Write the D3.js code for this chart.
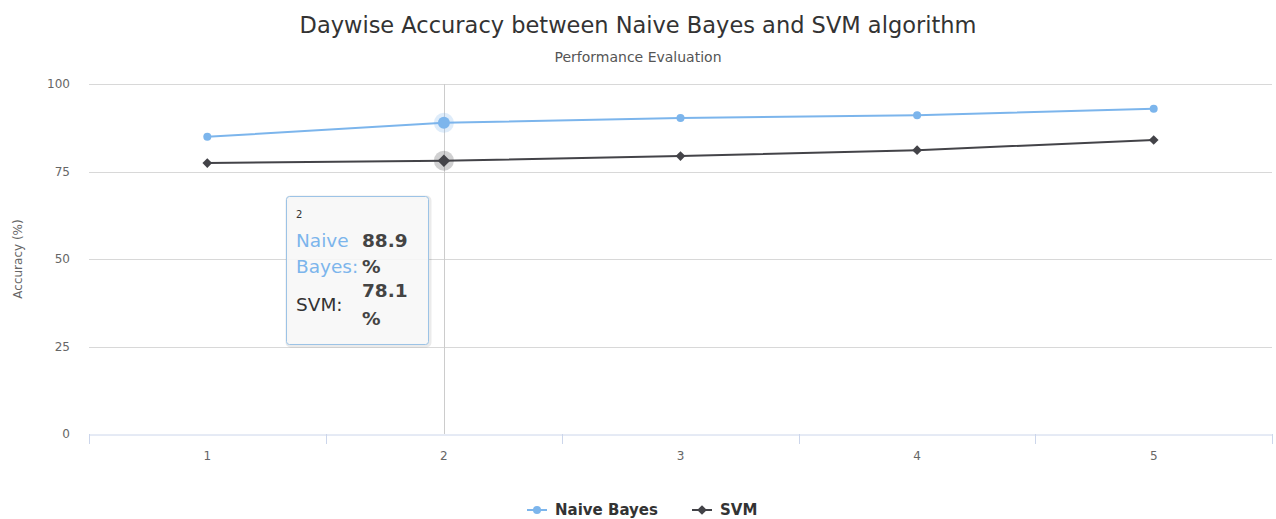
<!DOCTYPE html>
<html>
<head>
<meta charset="utf-8">
<script src="https://cdn.jsdelivr.net/npm/d3@7"></script>
<style>
  body { margin: 0; background: #fff; }
  svg { font-family: "DejaVu Sans", Verdana, sans-serif; }
</style>
</head>
<body>
<div id="chart"></div>
<script>
// chart data
const days = ['1', '2', '3', '4', '5'];
const naiveBayes = [84.9, 88.9, 90.3, 91.1, 92.9];
const svmAcc = [77.4, 78.1, 79.4, 81.1, 84.0];
const yTicks = [0, 25, 50, 75, 100];
const hoverIndex = 1;

const W = 1276, H = 519;
const margin = { top: 84, bottom: 85, left: 89, right: 4 };
const nbColor = '#7cb5ec';
const svmColor = '#434348';

const svg = d3.select('#chart').append('svg')
  .attr('width', W)
  .attr('height', H);

const x = d3.scaleBand().domain(days).range([margin.left, W - margin.right]);
const y = d3.scaleLinear().domain([0, 100]).range([H - margin.bottom, margin.top]);
const cx = d => x(d) + x.bandwidth() / 2;

// titles
svg.append('text')
  .attr('x', 638).attr('y', 33)
  .attr('text-anchor', 'middle')
  .attr('font-size', '22.5px')
  .attr('fill', '#333')
  .text('Daywise Accuracy between Naive Bayes and SVM algorithm');

svg.append('text')
  .attr('x', 638).attr('y', 62)
  .attr('text-anchor', 'middle')
  .attr('font-size', '14px')
  .attr('fill', '#555')
  .text('Performance Evaluation');

// grid lines
svg.append('g').selectAll('line')
  .data(yTicks.filter(t => t > 0))
  .enter().append('line')
  .attr('x1', margin.left).attr('x2', W - margin.right)
  .attr('y1', d => Math.round(y(d)) + 0.5).attr('y2', d => Math.round(y(d)) + 0.5)
  .attr('stroke', '#d8d8d8');

// y labels
svg.append('g').selectAll('text')
  .data(yTicks)
  .enter().append('text')
  .attr('x', 70).attr('y', d => y(d) + 4)
  .attr('text-anchor', 'end')
  .attr('font-size', '12px')
  .attr('fill', '#666')
  .text(d => d);

svg.append('text')
  .attr('transform', `translate(22, ${y(50)}) rotate(-90)`)
  .attr('text-anchor', 'middle')
  .attr('font-size', '12px')
  .attr('fill', '#666')
  .text('Accuracy (%)');

// x axis
const xAxis = svg.append('g')
  .attr('transform', `translate(0, ${Math.round(y(0)) + 0.5})`)
  .call(d3.axisBottom(x).tickSize(0).tickPadding(17));
xAxis.select('.domain').attr('stroke', '#ccd6eb');
xAxis.selectAll('text').attr('font-size', '12px').attr('fill', '#666')
  .attr('font-family', '"DejaVu Sans", sans-serif');

svg.append('g').selectAll('line')
  .data(days.map(d => x(d)).concat([x.range()[1] - 0.5]))
  .enter().append('line')
  .attr('x1', d => Math.round(d) + 0.5).attr('x2', d => Math.round(d) + 0.5)
  .attr('y1', y(0)).attr('y2', y(0) + 10)
  .attr('stroke', '#ccd6eb');

// crosshair
svg.append('line')
  .attr('x1', Math.round(cx(days[hoverIndex])) + 0.5)
  .attr('x2', Math.round(cx(days[hoverIndex])) + 0.5)
  .attr('y1', margin.top).attr('y2', y(0))
  .attr('stroke', '#cccccc');

// lines
const line = d3.line().x((d, i) => cx(days[i])).y(d => y(d));

svg.append('path').datum(naiveBayes)
  .attr('d', line).attr('fill', 'none')
  .attr('stroke', nbColor).attr('stroke-width', 2);

svg.append('path').datum(svmAcc)
  .attr('d', line).attr('fill', 'none')
  .attr('stroke', svmColor).attr('stroke-width', 2);

// hover halos
svg.append('circle')
  .attr('cx', cx(days[hoverIndex])).attr('cy', y(naiveBayes[hoverIndex]))
  .attr('r', 10).attr('fill', nbColor).attr('opacity', 0.25);
svg.append('circle')
  .attr('cx', cx(days[hoverIndex])).attr('cy', y(svmAcc[hoverIndex]))
  .attr('r', 10).attr('fill', svmColor).attr('opacity', 0.25);

// markers
svg.append('g').selectAll('circle')
  .data(naiveBayes)
  .enter().append('circle')
  .attr('cx', (d, i) => cx(days[i])).attr('cy', d => y(d))
  .attr('r', (d, i) => i === hoverIndex ? 6 : 4)
  .attr('fill', nbColor);

const diamond = d3.symbol().type(d3.symbolDiamond2);
svg.append('g').selectAll('path')
  .data(svmAcc)
  .enter().append('path')
  .attr('transform', (d, i) => `translate(${cx(days[i])}, ${y(d)})`)
  .attr('d', (d, i) => diamond.size(i === hoverIndex ? 100 : 60)())
  .attr('fill', svmColor);

// tooltip
const tipX = Math.round(cx(days[hoverIndex])) - 158;
const tipY = Math.round(y(naiveBayes[hoverIndex])) + 73;
const tip = svg.append('g').attr('transform', `translate(${tipX}, ${tipY})`);

tip.append('rect')
  .attr('x', 1.5).attr('y', 1.5).attr('width', 142).attr('height', 148)
  .attr('rx', 3).attr('fill', 'none')
  .attr('stroke', '#000').attr('stroke-opacity', 0.08).attr('stroke-width', 4);
tip.append('rect')
  .attr('x', 0.5).attr('y', 0.5).attr('width', 142).attr('height', 148)
  .attr('rx', 3).attr('fill', '#f7f7f7').attr('fill-opacity', 0.9)
  .attr('stroke', '#9cc3e6');

tip.append('text').attr('x', 10).attr('y', 22)
  .attr('font-size', '10px').attr('fill', '#333').text(days[hoverIndex]);

const labelFont = '18.5px';
tip.append('text').attr('x', 10).attr('y', 51)
  .attr('font-size', labelFont).attr('fill', nbColor).text('Naive');
tip.append('text').attr('x', 10).attr('y', 77)
  .attr('font-size', labelFont).attr('fill', nbColor).text('Bayes:');
tip.append('text').attr('x', 76).attr('y', 51)
  .attr('font-size', labelFont).attr('font-weight', 'bold').attr('fill', '#444')
  .text(naiveBayes[hoverIndex].toFixed(1));
tip.append('text').attr('x', 76).attr('y', 77)
  .attr('font-size', labelFont).attr('font-weight', 'bold').attr('fill', '#444').text('%');

tip.append('text').attr('x', 10).attr('y', 115)
  .attr('font-size', labelFont).attr('fill', '#333').text('SVM:');
tip.append('text').attr('x', 76).attr('y', 101)
  .attr('font-size', labelFont).attr('font-weight', 'bold').attr('fill', '#444')
  .text(svmAcc[hoverIndex].toFixed(1));
tip.append('text').attr('x', 76).attr('y', 129)
  .attr('font-size', labelFont).attr('font-weight', 'bold').attr('fill', '#444').text('%');

// legend
const legend = svg.append('g').attr('transform', 'translate(0, 510)');
const items = [
  { name: 'Naive Bayes', color: nbColor, shape: 'circle', x: 527 },
  { name: 'SVM', color: svmColor, shape: 'diamond', x: 692 }
];
items.forEach(it => {
  const g = legend.append('g').attr('transform', `translate(${it.x}, 0)`);
  g.append('line').attr('x1', 0).attr('x2', 20).attr('y1', 0).attr('y2', 0)
    .attr('stroke', it.color).attr('stroke-width', 2);
  if (it.shape === 'circle') {
    g.append('circle').attr('cx', 10).attr('cy', 0).attr('r', 4).attr('fill', it.color);
  } else {
    g.append('path').attr('transform', 'translate(10,0)')
      .attr('d', diamond.size(60)()).attr('fill', it.color);
  }
  g.append('text').attr('x', 28).attr('y', 5)
    .attr('font-size', '15px').attr('font-weight', 'bold').attr('fill', '#333')
    .text(it.name);
});
</script>
</body>
</html>
